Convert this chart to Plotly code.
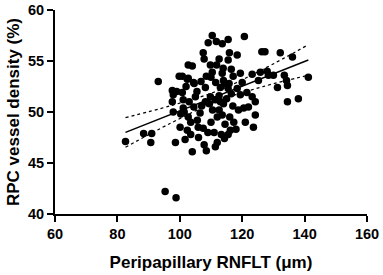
import plotly.graph_objects as go

rnflt = [82.6, 88.4, 91.0, 90.7, 93.1, 95.3, 98.8, 97.6, 97.9, 97.6, 97.9, 98.6, 99.8, 100.1,
         100.8, 101.1, 101.1, 100.3, 101.7, 102.4, 102.4, 102.7, 104.0, 104.4, 101.4, 102.7, 103.5,
         105.6, 105.9, 107.5, 106.5, 107.0, 107.8, 108.5, 108.2, 108.2, 105.0, 109.8, 110.5, 111.4,
         111.4, 112.0, 113.3, 114.3, 115.5, 112.6, 113.6, 114.0, 115.0, 115.5, 114.3, 113.0, 111.5,
         110.0, 112.6, 116.5, 117.0, 116.0, 118.4, 119.4, 117.3, 118.0, 123.6, 124.2, 124.2, 123.2,
         121.5, 123.2, 125.8, 125.2, 128.4, 130.0, 131.3, 134.2, 134.5, 134.5, 138.0, 141.2, 136.1,
         132.2, 126.3, 127.3, 120.7, 118.4, 115.9, 115.5, 113.6, 111.7, 109.1, 110.4, 107.5, 107.8,
         104.0, 109.8, 110.4, 112.6, 115.5, 113.9, 113.6, 117.1, 119.4, 100.8, 102.7, 104.6, 114.0,
         115.8, 109.0, 110.0, 106.0, 104.5, 103.0, 99.0, 105.5, 111.0, 112.0, 120.5, 121.0, 118.8,
         116.5, 120.0, 108.5, 106.8, 111.8, 122.0, 114.5, 116.2, 102.0, 103.5, 109.5, 113.0, 128.0,
         133.5]
density = [47.1, 47.9, 47.9, 47.0, 53.0, 42.2, 41.6, 52.1, 51.7, 51.0, 50.0, 47.0, 53.5, 48.5,
           51.9, 51.2, 50.4, 49.8, 47.3, 48.2, 53.2, 54.6, 46.1, 52.9, 50.0, 49.5, 49.0,
           49.2, 48.5, 48.4, 49.9, 50.6, 46.8, 46.2, 51.0, 52.4, 51.5, 51.5, 50.2, 46.6,
           51.2, 49.5, 47.8, 47.4, 47.8, 50.2, 49.7, 50.8, 51.3, 52.3, 52.8, 52.4, 52.9,
           53.4, 51.6, 51.8, 50.6, 49.5, 52.3, 51.7, 49.0, 48.3, 48.5, 49.7, 51.0, 51.5,
           51.9, 53.7, 53.9, 53.1, 53.6, 53.6, 52.4, 53.1, 52.6, 51.0, 51.3, 53.4, 55.4,
           55.8, 55.9, 55.9, 57.4, 55.6, 55.8, 57.1, 56.7, 56.9, 56.8, 57.5, 55.8, 55.2,
           54.5, 54.6, 53.9, 55.2, 55.1, 54.3, 53.8, 53.5, 53.8, 53.5, 53.3, 52.8, 53.1,
           52.8, 48.0, 49.0, 47.5, 50.5, 51.0, 52.0, 52.0, 48.0, 47.0, 50.4, 49.0, 50.2,
           54.2, 52.9, 53.5, 53.0, 54.6, 50.5, 48.8, 48.2, 52.5, 47.8, 50.8, 51.0, 54.0,
           53.6]

# regression line and 95% confidence band
trend_x = [82.6, 97.0, 112.0, 127.0, 141.2]
trend_y = [48.0, 49.75, 51.56, 53.38, 55.1]
band_upper = [49.45, 50.61, 52.06, 54.24, 56.6]
band_lower = [46.55, 48.89, 51.06, 52.52, 53.6]

x_ticks = [60, 80, 100, 120, 140, 160]
y_ticks = [40, 45, 50, 55, 60]

fig = go.Figure()
for band in (band_upper, band_lower):
    fig.add_trace(go.Scatter(x=trend_x, y=band, mode="lines", line_shape="spline",
                             line=dict(color="black", width=1.2, dash="dot"), hoverinfo="skip"))
fig.add_trace(go.Scatter(x=trend_x, y=trend_y, mode="lines",
                         line=dict(color="black", width=1.5), hoverinfo="skip"))
fig.add_trace(go.Scatter(x=rnflt, y=density, mode="markers",
                         marker=dict(color="black", size=7.5, line=dict(width=0))))

font_family = "Liberation Sans, Arial, sans-serif"
axis_common = dict(showgrid=False, zeroline=False, showline=True, linecolor="black", linewidth=2,
                   ticks="outside", ticklen=6, tickwidth=2, tickcolor="black", automargin=False,
                   tickfont=dict(family=font_family, size=14.5, color="black", weight="bold"))
fig.update_layout(
    width=383, height=275,
    margin=dict(l=55, r=16, t=10, b=61),
    paper_bgcolor="white", plot_bgcolor="white",
    showlegend=False,
    xaxis=dict(range=[60, 160], tickvals=x_ticks, ticktext=[f"<b>{v}</b>" for v in x_ticks],
               **axis_common,
               title=dict(text="<b>Peripapillary RNFLT (μm)</b>", standoff=15,
                          font=dict(family=font_family, size=17, color="black"))),
    yaxis=dict(range=[40, 60], tickvals=y_ticks, ticktext=[f"<b>{v}</b>" for v in y_ticks],
               **axis_common,
               title=dict(text="<b>RPC vessel density (%)</b>", standoff=4,
                          font=dict(family=font_family, size=17, color="black"))),
)
# remove the default 8 px page margin so the 383x275 figure fills the window exactly
fig.write_html("out.html", config={"displayModeBar": False},
               post_script="document.body.style.margin='0';document.body.style.overflow='hidden';")
